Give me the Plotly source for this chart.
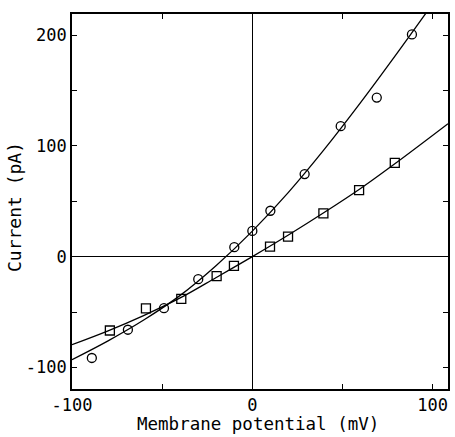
import plotly.graph_objects as go

# Data points
circle_v = [-89, -69, -49, -30, -10, 0, 10, 29, 49, 69, 88.5]
circle_i = [-91.5, -66, -46.5, -20.4, 8.5, 23.2, 41.4, 74.5, 117.7, 143.6, 200.6]

square_v = [-79, -59, -39.4, -19.8, -10.2, 9.8, 19.8, 39.4, 59.2, 79]
square_i = [-66.7, -46.8, -38.2, -17.6, -8.4, 9, 18, 39.1, 60.1, 84.7]

# Fitted curves (sampled from reference)
circle_fit_v = [-100, -80, -60, -40, -20, 0, 20, 40, 60, 80, 99]
circle_fit_i = [-93, -76, -57, -35, -8, 23, 58, 97, 139, 183, 226]

square_fit_v = [-100, -80, -60, -40, -20, 0, 20, 40, 60, 80, 108.5]
square_fit_i = [-79.5, -67, -53, -37.3, -18.8, 0, 19.5, 40, 61.5, 85, 120]

x_tickvals = [-100, -50, 0, 50, 100]
x_ticktext = ["-100", "", "0", "", "100"]
y_tickvals = [-100, -50, 0, 50, 100, 150, 200]
y_ticktext = ["-100", "", "0", "", "100", "", "200"]

x_title = "Membrane potential (mV)"
y_title = "Current (pA)"

FONT = "DejaVu Sans Mono"

fig = go.Figure()
fig.add_trace(go.Scatter(x=circle_fit_v, y=circle_fit_i, mode="lines",
                         line=dict(color="black", width=1.3, shape="spline"),
                         showlegend=False, hoverinfo="skip"))
fig.add_trace(go.Scatter(x=square_fit_v, y=square_fit_i, mode="lines",
                         line=dict(color="black", width=1.3, shape="spline"),
                         showlegend=False, hoverinfo="skip"))
fig.add_trace(go.Scatter(x=circle_v, y=circle_i, mode="markers",
                         marker=dict(symbol="circle-open", size=9, color="black",
                                     line=dict(width=1.3, color="black")),
                         showlegend=False))
fig.add_trace(go.Scatter(x=square_v, y=square_i, mode="markers",
                         marker=dict(symbol="square-open", size=9, color="black",
                                     line=dict(width=1.3, color="black")),
                         showlegend=False))

axis_common = dict(
    showgrid=False, automargin=False,
    zeroline=True, zerolinecolor="black", zerolinewidth=1.2,
    showline=True, linecolor="black", linewidth=1.8, mirror="allticks",
    ticks="inside", ticklen=5, tickwidth=1, tickcolor="black",
    tickfont=dict(family=FONT, size=17, color="black"),
)

fig.update_layout(
    width=455, height=437,
    margin=dict(l=72, r=7, t=14, b=48),
    paper_bgcolor="white", plot_bgcolor="white",
    xaxis=dict(range=[-100, 108.5], tickvals=x_tickvals, ticktext=x_ticktext,
               **axis_common),
    yaxis=dict(range=[-119.5, 219], tickvals=y_tickvals, ticktext=y_ticktext,
               **axis_common),
    annotations=[
        dict(text=x_title, xref="paper", yref="paper", x=(257.5 - 72) / 376,
             y=(389 - 424) / 375, xanchor="center", yanchor="middle",
             showarrow=False, font=dict(family=FONT, size=17.5, color="black")),
        dict(text=y_title, xref="paper", yref="paper", x=(15 - 72) / 376,
             y=(389 - 207) / 375, xanchor="center", yanchor="middle",
             textangle=-90, showarrow=False,
             font=dict(family=FONT, size=18, color="black")),
    ],
)

fig.write_html("out.html", config={"displayModeBar": False},
               post_script="document.body.style.margin='0';document.body.style.padding='0';")
